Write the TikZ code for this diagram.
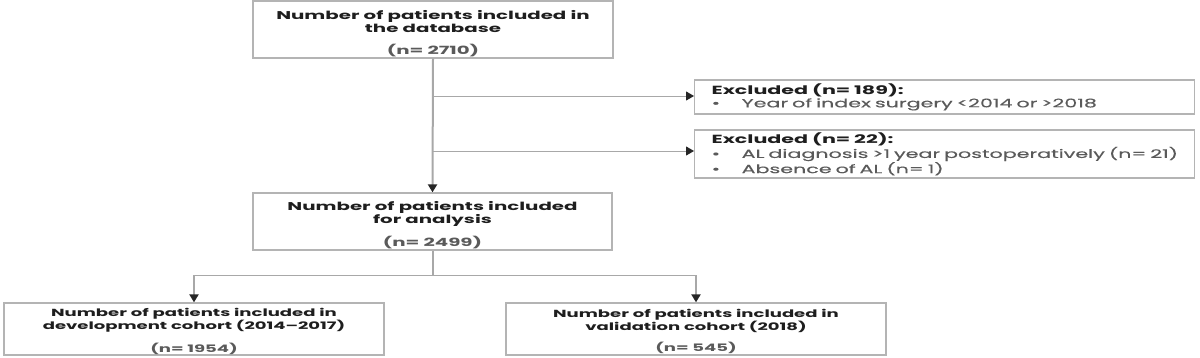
\documentclass[tikz,border=0pt]{standalone}
\usepackage{fontspec}
\setmainfont{Poppins}[FakeStretch=1.75]
\newfontfamily\medfont{Poppins}[FakeStretch=1.75, FakeBold=0.25]
\usetikzlibrary{arrows.meta}
\definecolor{boxgray}{HTML}{B4B4B4}
\definecolor{linegray}{HTML}{A8A8A8}
\definecolor{txt}{HTML}{1E1E1E}
\definecolor{ntxt}{HTML}{5A5A5A}
\tikzset{
  box/.style={draw=boxgray, line width=1.3pt, fill=white, inner sep=0pt, text=txt},
  mainbox/.style={box, align=center, font=\fontsize{11.3}{12.8}\selectfont},
  exbox/.style={box, anchor=west, align=left, text width=480pt, inner xsep=0pt,
     font=\fontsize{11.8}{13}\selectfont},
  trunk/.style={draw=linegray, line width=2pt},
  branch/.style={draw=linegray, line width=1pt},
  tipA/.style={-{Triangle[length=8pt,width=9pt,color=black!85]}},
}
\newcommand{\nlab}[1]{{\bfseries\color{ntxt}#1}}
\newcommand{\bul}{\makebox[30pt][l]{\textbullet}}
\newcommand{\up}[1]{\rule{0pt}{#1}}
\begin{document}
\begin{tikzpicture}[x=1pt,y=-1pt]
\useasboundingbox[fill=white] (0,0) rectangle (1200,357);

\node[mainbox, minimum width=360pt, minimum height=57pt] (top) at (433,29.5)
  {\up{17pt}\bfseries Number of patients included in\\\bfseries the database\\[9pt]\nlab{(n= 2710)}};

\node[exbox, minimum width=500pt, minimum height=34pt] (ex1) at (694,97)
  {\hspace*{7pt}\parbox[c]{480pt}{{\bfseries Excluded (n= 189):}\\
   {\mdseries\medfont\color{ntxt}\bul Year of index surgery <2014 or >2018}}};

\node[exbox, minimum width=500pt, minimum height=48pt] (ex2) at (694,154)
  {\hspace*{7pt}\parbox[c]{480pt}{{\bfseries Excluded (n= 22):}\\
   {\mdseries\medfont\color{ntxt}\bul AL diagnosis >1 year postoperatively (n= 21)}\\
   {\mdseries\medfont\color{ntxt}\bul Absence of AL (n= 1)}}};

\node[mainbox, minimum width=359pt, minimum height=57pt] (ana) at (432.5,221.5)
  {\up{17pt}\bfseries Number of patients included\\\bfseries for analysis\\[9pt]\nlab{(n= 2499)}};

\node[mainbox, font=\fontsize{10.3}{10.6}\selectfont, minimum width=380pt, minimum height=52pt] (dev) at (194,329)
  {\up{13pt}\bfseries Number of patients included in\\\bfseries development cohort (2014--2017)\\[9pt]\nlab{(n= 1954)}};

\node[mainbox, font=\fontsize{10.3}{10.6}\selectfont, minimum width=380pt, minimum height=52pt] (val) at (696,329)
  {\up{13pt}\bfseries Number of patients included in\\\bfseries validation cohort (2018)\\[9pt]\nlab{(n= 545)}};

% trunk from top box to analysis box
\draw[trunk, tipA] (top.south) -- (ana.north);
\coordinate (b1) at (top.south |- 0,96);
\coordinate (b2) at (top.south |- 0,151);
\draw[branch, tipA] (b1) -- (b1 -| ex1.west);
\draw[branch, tipA] (b2) -- (b2 -| ex2.west);

% split to cohorts
\coordinate (split) at (ana.south |- 0,275);
\coordinate (sl) at (dev.north |- split);
\coordinate (sr) at (val.north |- split);
\draw[trunk] (ana.south) -- (split);
\draw[branch] (sl) -- (sr);
\draw[trunk, tipA] (sl) -- (dev.north);
\draw[trunk, tipA] (sr) -- (val.north);
\end{tikzpicture}
\end{document}
